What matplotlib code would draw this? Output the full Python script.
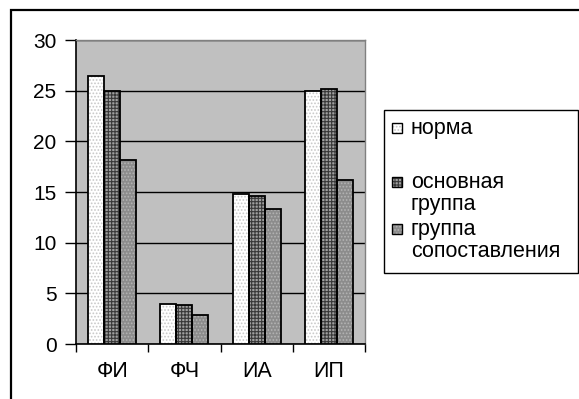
import matplotlib.pyplot as plt
import numpy as np
from matplotlib.patches import Rectangle

plt.rcParams['font.family'] = ['Liberation Sans', 'DejaVu Sans']
plt.rcParams['hatch.linewidth'] = 0.8

categories = ['ФИ', 'ФЧ', 'ИА', 'ИП']
series_names = ['норма', 'основная\nгруппа', 'группа\nсопоставления']
norma = [26.4, 3.95, 14.8, 25.0]
osnovnaya = [25.0, 3.8, 14.6, 25.2]
sopostavleniya = [18.2, 2.9, 13.3, 16.2]
y_ticks = [0, 5, 10, 15, 20, 25, 30]

# face, hatch, hatch colour per series
styles = [('white', '.....', '#c8c8c8'),
          ('#a0a0a0', '+++++', '#383838'),
          ('#8c8c8c', '.....', '#b4b4b4')]

W, H = 579, 399
fig = plt.figure(figsize=(W / 100, H / 100), dpi=100)

# outer chart frame
fig.patches.append(Rectangle((11 / W, -0.1), 2.0, (H - 10) / H + 0.1,
                             transform=fig.transFigure, fill=False,
                             edgecolor='black', linewidth=1.6))

ax = fig.add_axes([76 / W, (H - 344) / H, (365 - 76) / W, (344 - 40) / H])
ax.set_facecolor('#c0c0c0')

x = np.arange(len(categories))
bw = 0.222
data = [norma, osnovnaya, sopostavleniya]
for i, vals in enumerate(data):
    face, hatch, hcol = styles[i]
    pos = x + (i - 1) * bw
    ax.bar(pos, vals, bw, color=face, hatch=hatch, edgecolor=hcol,
           linewidth=0, zorder=3)
    ax.bar(pos, vals, bw, fill=False, edgecolor='black', linewidth=1.3,
           zorder=4)

ax.set_ylim(0, 30)
ax.set_xlim(-0.5, 3.5)
ax.set_yticks(y_ticks)
ax.yaxis.grid(True, color='black', linewidth=1.0, zorder=1)
ax.set_axisbelow(True)
ax.tick_params(axis='y', direction='out', length=8, width=1.0,
               labelsize=15, pad=6)
ax.set_xticks(np.arange(-0.5, 4.0, 1.0))
ax.set_xticklabels([])
ax.tick_params(axis='x', direction='out', length=6, width=1.0)
for c, lab in zip(x, categories):
    ax.text(c, -2.7, lab, ha='center', va='center', fontsize=15.5)

for s in ['top', 'right']:
    ax.spines[s].set_color('#808080')
    ax.spines[s].set_linewidth(1.0)
for s in ['left', 'bottom']:
    ax.spines[s].set_color('black')
    ax.spines[s].set_linewidth(1.2)

# legend drawn Excel-style: marker aligned with first line of each entry
fig.patches.append(Rectangle((384 / W, (H - 273) / H), (578 - 384) / W,
                             (273 - 110) / H, transform=fig.transFigure,
                             facecolor='white', edgecolor='black',
                             linewidth=1.0))
entry_y = [128, 182, 229]
for i, name in enumerate(series_names):
    face, hatch, hcol = styles[i]
    yc = entry_y[i]
    fig.patches.append(Rectangle((392 / W, (H - yc - 5) / H), 10 / W, 10 / H,
                                 transform=fig.transFigure, facecolor=face,
                                 hatch=hatch, edgecolor=hcol, linewidth=0))
    fig.patches.append(Rectangle((392 / W, (H - yc - 5) / H), 10 / W, 10 / H,
                                 transform=fig.transFigure, fill=False,
                                 edgecolor='black', linewidth=1.0))
    fig.text(411 / W, (H - yc + 10) / H, name, ha='left', va='top',
             fontsize=15.5, linespacing=1.08)

fig.savefig('out.png', dpi=100)
